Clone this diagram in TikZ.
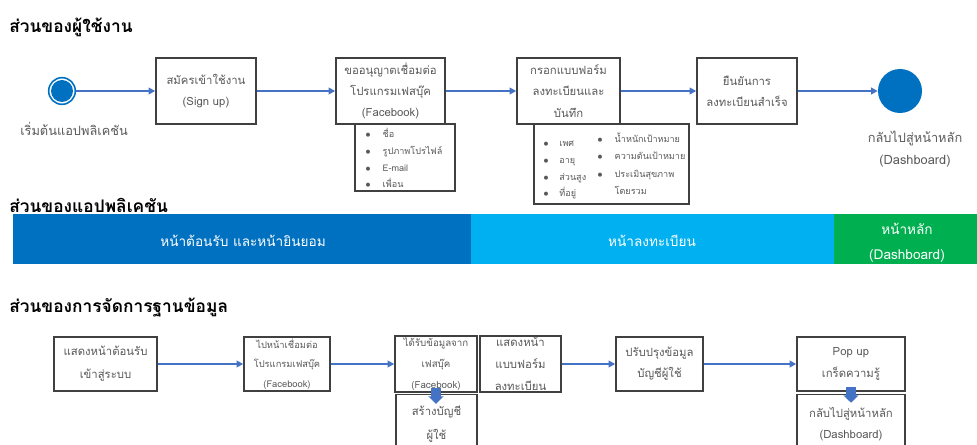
\documentclass[tikz,border=0pt]{standalone}
\usepackage{fontspec}
\setmainfont[Script=Thai]{Loma}
\usetikzlibrary{arrows.meta}
\definecolor{appblue}{HTML}{0070C0}
\definecolor{regblue}{HTML}{00B0F0}
\definecolor{dashgreen}{HTML}{00B050}
\definecolor{flowblue}{HTML}{4472C4}
\definecolor{edgegray}{HTML}{404040}
\definecolor{txtgray}{HTML}{595959}
\tikzset{
  heading/.style={anchor=west, font=\fontsize{13}{15}\selectfont\bfseries, text=black, inner sep=0pt},
  stepbox/.style={draw=edgegray, line width=1.1pt, fill=white, text=txtgray, align=center,
                  inner sep=1pt, font=\fontsize{8.5}{16}\selectfont},
  smallbox/.style={stepbox, font=\fontsize{7}{14.5}\selectfont},
  listbox/.style={draw=edgegray, line width=1.1pt, fill=white, inner sep=0pt},
  listtext/.style={anchor=north west, text=txtgray, inner sep=0pt, font=\fontsize{6.8}{12.5}\selectfont},
  flow/.style={draw=flowblue, line width=1.5pt, -{Triangle[length=5pt,width=5pt]}},
  drop/.style={draw=flowblue, line width=7pt, -{Triangle[length=5.5pt,width=11pt]}},
  band/.style={inner sep=0pt, text=white, align=center, font=\fontsize{10.2}{15}\selectfont},
  caption/.style={text=txtgray, align=center, font=\fontsize{9.6}{17}\selectfont},
}
\begin{document}
\begin{tikzpicture}[x=0.75pt, y=-0.75pt]
\useasboundingbox (0,0) rectangle (977,445);
\clip (0,0) rectangle (977,445);

% ---------- user flow ----------
\node[heading] (h1) at (9,27) {ส่วนของผู้ใช้งาน};

\node[circle, draw=appblue, line width=1.2pt, fill=white, minimum size=20pt, inner sep=0pt] (start) at (62,91) {};
\node[circle, fill=appblue, minimum size=16.5pt, inner sep=0pt] (startcore) at (62,91) {};
\node[caption] (startlbl) at (74,129) {เริ่มต้นแอปพลิเคชัน};

\node[stepbox, minimum width=75pt, minimum height=49.5pt] (signup) at (206,91) {สมัครเข้าใช้งาน\\(Sign up)};
\node[stepbox, minimum width=81.75pt, minimum height=49.5pt] (fbperm) at (390.5,91) {ขออนุญาตเชื่อมต่อ\\โปรแกรมเฟสบุ๊ค\\(Facebook)};
\node[stepbox, minimum width=77.25pt, minimum height=49.5pt] (regform) at (568.5,91) {กรอกแบบฟอร์ม\\ลงทะเบียนและ\\บันทึก};
\node[stepbox, minimum width=75pt, minimum height=49.5pt] (confirm) at (747,91) {ยืนยันการ\\ลงทะเบียนสำเร็จ};
\node[circle, fill=appblue, minimum size=33pt, inner sep=0pt] (home) at (900,91) {};
\node[caption] (homelbl) at (915,149) {กลับไปสู่หน้าหลัก\\(Dashboard)};

% facebook data list
\node[listbox, minimum width=75pt, minimum height=50.25pt] (fblist) at (405,157.5) {};
\node[listtext] (fbitems) at (365,126) {%
  \begin{tabular}{@{}l@{\hspace{9pt}}l@{}}
  $\bullet$ & ชื่อ\\
  $\bullet$ & รูปภาพโปรไฟล์\\
  $\bullet$ & E-mail\\
  $\bullet$ & เพื่อน
  \end{tabular}};

% registration data list
\node[listbox, minimum width=116.25pt, minimum height=60pt] (reglist) at (611.5,164) {};
\node[listtext] (regitemsa) at (543,135) {%
  \begin{tabular}{@{}l@{\hspace{8pt}}l@{}}
  $\bullet$ & เพศ\\
  $\bullet$ & อายุ\\
  $\bullet$ & ส่วนสูง\\
  $\bullet$ & ที่อยู่
  \end{tabular}};
\node[listtext, font=\fontsize{6.8}{13}\selectfont] (regitemsb) at (597,130) {%
  \begin{tabular}{@{}l@{\hspace{9pt}}l@{}}
  $\bullet$ & น้ำหนักเป้าหมาย\\
  $\bullet$ & ความดันเป้าหมาย\\
  $\bullet$ & ประเมินสุขภาพ\\
            & โดยรวม
  \end{tabular}};

\draw[flow] (start) -- (signup);
\draw[flow] (signup) -- (fbperm);
\draw[flow] (fbperm) -- (regform);
\draw[flow] (regform) -- (confirm);
\draw[flow] (confirm) -- (home);

% ---------- application pages ----------
\node[heading] (h2) at (9,205) {ส่วนของแอปพลิเคชัน};
\fill[appblue] (13,214) rectangle (471,264);
\fill[regblue] (471,214) rectangle (834,264);
\fill[dashgreen] (834,214) rectangle (977,264);
\node[band] (welcome) at (243,241) {หน้าต้อนรับ และหน้ายินยอม};
\node[band] (regpage) at (652,241) {หน้าลงทะเบียน};
\node[band] (dashpage) at (907,243) {หน้าหลัก\\[4pt](Dashboard)};

% ---------- database handling ----------
\node[heading] (h3) at (9,308) {ส่วนของการจัดการฐานข้อมูล};

\node[stepbox, minimum width=77.25pt, minimum height=40.5pt, font=\fontsize{8.5}{17}\selectfont] (dwelcome) at (105.5,364) {แสดงหน้าต้อนรับ\\เข้าสู่ระบบ};
\node[smallbox, minimum width=64.5pt, minimum height=40.5pt] (dfbpage) at (287,364) {ไปหน้าเชื่อมต่อ\\โปรแกรมเฟสบุ๊ค\\(Facebook)};
\node[smallbox, minimum width=61.5pt, minimum height=40.5pt, font=\fontsize{7.3}{16}\selectfont] (dfbdata) at (436,364) {ได้รับข้อมูลจาก\\เฟสบุ๊ค\\(Facebook)};
\node[stepbox, minimum width=60.75pt, minimum height=40.5pt, font=\fontsize{8.5}{16.5}\selectfont] (dform) at (520.5,364) {แสดงหน้า\\แบบฟอร์ม\\ลงทะเบียน};
\node[stepbox, minimum width=60.75pt, minimum height=44pt, font=\fontsize{8.5}{18}\selectfont] (daccount) at (436.5,424) {สร้างบัญชี\\ผู้ใช้};
\node[stepbox, minimum width=65.25pt, minimum height=40.5pt] (dupdate) at (659.5,364) {ปรับปรุงข้อมูล\\บัญชีผู้ใช้};
\node[stepbox, minimum width=81pt, minimum height=40.5pt, font=\fontsize{8.5}{17}\selectfont] (dtips) at (851,364) {Pop up\\เกร็ดความรู้};
\node[stepbox, minimum width=81pt, minimum height=44pt] (dhome) at (851,424) {กลับไปสู่หน้าหลัก\\(Dashboard)};

\draw[flow] (dwelcome) -- (dfbpage);
\draw[flow] (dfbpage) -- (dfbdata);
\draw[flow] (dform) -- (dupdate);
\draw[flow] (dupdate) -- (dtips);
\draw[drop] (dfbdata.south) ++(0,-5) -- ++(0,16);
\draw[drop] (dtips.south) ++(0,-5) -- ++(0,16);
\end{tikzpicture}
\end{document}
